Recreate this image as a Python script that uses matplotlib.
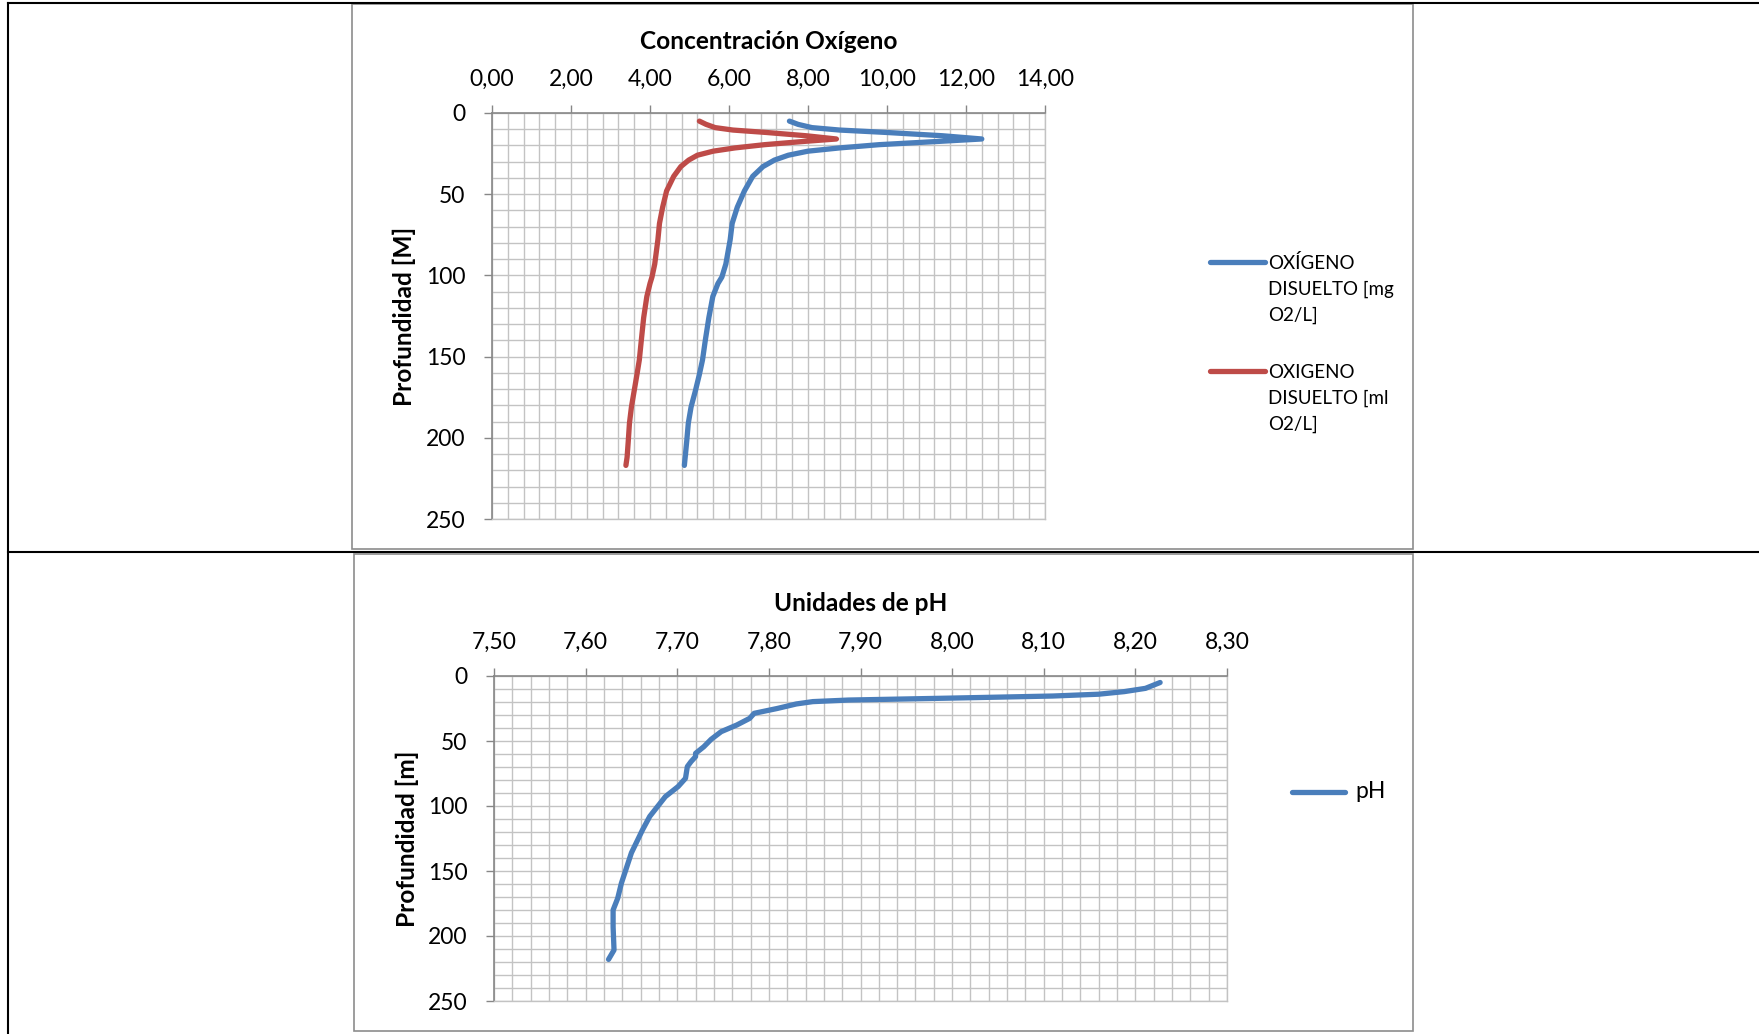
import matplotlib
matplotlib.use("Agg")
import matplotlib.pyplot as plt
from matplotlib.ticker import MultipleLocator
from matplotlib.patches import Rectangle
from matplotlib.lines import Line2D

plt.rcParams['font.family'] = ['Lato', 'DejaVu Sans']

# oxygen profile (depth in m)
depth_o2 = [5, 7, 9, 10.5, 12, 14, 16, 17.5, 19.5, 21.5, 23.5, 26, 29, 33, 39, 48,
            58, 68, 78, 93, 101, 105, 113, 126, 140, 152, 161, 171, 181, 191, 202,
            212, 217]
o2_mg = [7.53, 7.75, 8.1, 8.8, 10.0, 11.4, 12.4, 11.3, 9.8, 8.8, 8.0, 7.5, 7.15,
         6.86, 6.6, 6.39, 6.21, 6.08, 6.03, 5.92, 5.82, 5.72, 5.59, 5.49, 5.4,
         5.33, 5.25, 5.15, 5.04, 4.97, 4.93, 4.89, 4.87]
o2_ml = [5.25, 5.42, 5.65, 6.1, 6.95, 7.95, 8.72, 7.9, 6.9, 6.15, 5.6, 5.2, 4.98,
         4.78, 4.6, 4.42, 4.32, 4.24, 4.2, 4.12, 4.05, 4.0, 3.92, 3.84, 3.78,
         3.73, 3.67, 3.6, 3.53, 3.48, 3.45, 3.42, 3.39]

# pH profile
depth_ph = [5, 9.5, 12, 14, 15.4, 17, 18.5, 19.7, 21.5, 25, 28.7, 32.6, 37.7, 42.8,
            48.7, 54.4, 59.5, 62, 65.9, 69.7, 78.7, 85, 92.8, 108, 118.5, 136,
            159.5, 171, 180, 193, 210.8, 218]
ph = [8.227, 8.211, 8.188, 8.16, 8.11, 7.999, 7.887, 7.848, 7.83, 7.809, 7.784,
      7.779, 7.765, 7.748, 7.737, 7.729, 7.72, 7.72, 7.715, 7.711, 7.709, 7.701,
      7.687, 7.67, 7.662, 7.65, 7.639, 7.635, 7.63, 7.63, 7.631, 7.625]

o2_ticks = [0, 2, 4, 6, 8, 10, 12, 14]
o2_ticklabels = ['0,00', '2,00', '4,00', '6,00', '8,00', '10,00', '12,00', '14,00']
ph_ticks = [7.5, 7.6, 7.7, 7.8, 7.9, 8.0, 8.1, 8.2, 8.3]
ph_ticklabels = ['7,50', '7,60', '7,70', '7,80', '7,90', '8,00', '8,10', '8,20', '8,30']
depth_ticks = [0, 50, 100, 150, 200, 250]

o2_labels = ['OXÍGENO\nDISUELTO [mg\nO2/L]', 'OXIGENO\nDISUELTO [ml\nO2/L]']
ph_label = 'pH'

blue = '#4A7EBB'
red = '#BE4B48'
grid_c = '#C3C3C3'
axis_c = '#878787'
LW = 3.8

W, H = 1759, 1034
fig = plt.figure(figsize=(W / 100, H / 100), dpi=100)


def fx(px):
    return px / W


def fy(py):
    return 1 - py / H


def box(x0, y0, x1, y1):
    return [fx(x0), fy(y1), fx(x1) - fx(x0), fy(y0) - fy(y1)]


# table borders (word document look)
fig.add_artist(Line2D([fx(8), fx(8)], [fy(3), 0], color='black', lw=1.5))
fig.add_artist(Line2D([fx(8), 1], [fy(3), fy(3)], color='black', lw=1.5))
fig.add_artist(Line2D([fx(8), 1], [fy(552), fy(552)], color='black', lw=1.5))

# chart frames
for x0, y0, x1, y1 in [(352, 4, 1413, 549), (354, 554, 1413, 1031)]:
    fig.add_artist(Rectangle((fx(x0), fy(y1)), fx(x1) - fx(x0), fy(y0) - fy(y1),
                             transform=fig.transFigure, fill=False,
                             edgecolor='#8C8C8C', lw=1.2))


def style(ax, ticks, labels, minor):
    ax.set_ylim(250, 0)
    ax.set_xlim(ticks[0], ticks[-1])
    ax.xaxis.tick_top()
    ax.set_xticks(ticks)
    ax.set_xticklabels(labels)
    ax.xaxis.set_minor_locator(MultipleLocator(minor))
    ax.set_yticks(depth_ticks)
    ax.yaxis.set_minor_locator(MultipleLocator(10))
    ax.grid(which='both', color=grid_c, lw=1.0)
    ax.set_axisbelow(True)
    ax.tick_params(which='major', length=6, width=1, color=axis_c, labelsize=16.5)
    ax.tick_params(axis='y', pad=13)
    ax.tick_params(axis='x', pad=10.5)
    ax.tick_params(which='minor', length=0)
    for s in ['left', 'top']:
        ax.spines[s].set_color(axis_c)
        ax.spines[s].set_linewidth(1.2)
    for s in ['right', 'bottom']:
        ax.spines[s].set_color(grid_c)
        ax.spines[s].set_linewidth(1.0)


# top chart: oxygen
ax1 = fig.add_axes(box(492, 113, 1045, 519))
style(ax1, o2_ticks, o2_ticklabels, 0.4)
ax1.plot(o2_mg, depth_o2, color=blue, lw=LW, solid_capstyle='round',
         solid_joinstyle='round')
ax1.plot(o2_ml, depth_o2, color=red, lw=LW, solid_capstyle='round',
         solid_joinstyle='round')
ax1.text(0.5, (519 - 49) / 406, 'Concentración Oxígeno', transform=ax1.transAxes,
         ha='center', va='baseline', fontsize=17.6, fontweight='bold')
ax1.set_ylabel('Profundidad [M]', fontsize=17.6, fontweight='bold', va='center')
ax1.yaxis.set_label_coords((404 - 492) / 553, 0.5)

# legend for top chart
for (yl, col, lab) in [(262, blue, o2_labels[0]), (371, red, o2_labels[1])]:
    fig.add_artist(Line2D([fx(1210), fx(1265)], [fy(yl), fy(yl)], color=col,
                          lw=LW, solid_capstyle='round'))
    for i, line in enumerate(lab.split('\n')):
        fig.text(fx(1268), fy(yl + 7 + 26 * i), line, fontsize=13.5,
                 ha='left', va='baseline')

# bottom chart: pH
ax2 = fig.add_axes(box(494, 676, 1227, 1001))
style(ax2, ph_ticks, ph_ticklabels, 0.02)
ax2.plot(ph, depth_ph, color=blue, lw=LW, solid_capstyle='round',
         solid_joinstyle='round')
ax2.text(0.5, (1001 - 611) / 325, 'Unidades de pH', transform=ax2.transAxes,
         ha='center', va='baseline', fontsize=17.6, fontweight='bold')
ax2.set_ylabel('Profundidad [m]', fontsize=17.6, fontweight='bold', va='center')
ax2.yaxis.set_label_coords((407 - 494) / 733, 0.5)

fig.add_artist(Line2D([fx(1292), fx(1345)], [fy(792), fy(792)], color=blue,
                      lw=LW, solid_capstyle='round'))
fig.text(fx(1355), fy(792), ph_label, fontsize=16.5, ha='left', va='center')

fig.savefig('out.png', dpi=100)
